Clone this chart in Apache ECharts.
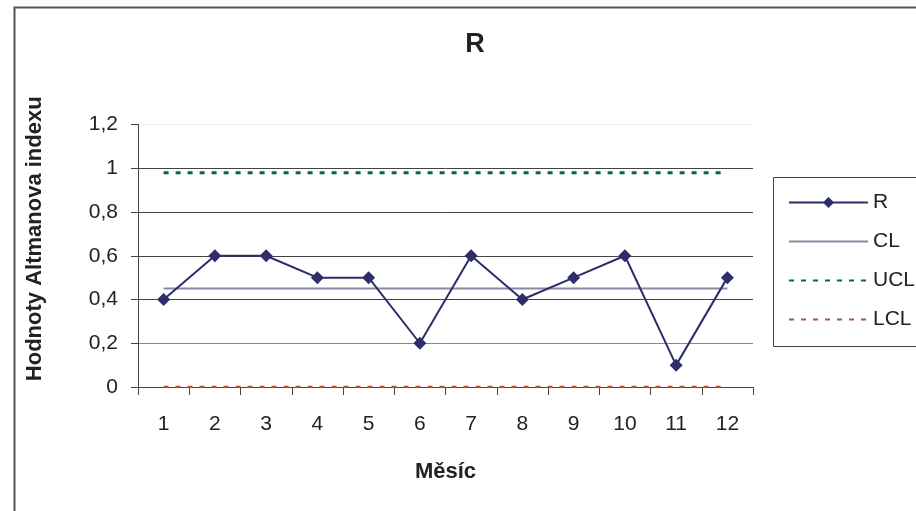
<!DOCTYPE html>
<html>
<head>
<meta charset="utf-8">
<script src="https://cdn.jsdelivr.net/npm/echarts@6/dist/echarts.min.js"></script>
<style>
  html, body { margin: 0; padding: 0; background: #fff; }
  #chart { width: 916px; height: 511px; }
</style>
</head>
<body>
<div id="chart"></div>
<script>
// Control chart of the Altman index by month
const months = ['1', '2', '3', '4', '5', '6', '7', '8', '9', '10', '11', '12'];
const rValues = [0.4, 0.6, 0.6, 0.5, 0.5, 0.2, 0.6, 0.4, 0.5, 0.6, 0.1, 0.5];
const clValue = 0.45;
const uclValue = 0.98;
const lclValue = 0;
const yTicks = [0, 0.2, 0.4, 0.6, 0.8, 1, 1.2];

const FONT = '"Liberation Sans", Arial, sans-serif';
const constant = v => months.map(() => v);
const fmt = v => String(Math.round(v * 10) / 10).replace('.', ',');
const noMarker = { opacity: 0 };

const chart = echarts.init(document.getElementById('chart'));
chart.setOption({
  animation: false,
  backgroundColor: '#fff',
  textStyle: { fontFamily: FONT },
  graphic: [
    {
      type: 'rect',
      shape: { x: 14.5, y: 7.5, width: 940, height: 540 },
      style: { fill: 'none', stroke: '#555', lineWidth: 2 },
      silent: true, z: -10
    },
    {
      type: 'rect',
      shape: { x: 773.5, y: 177.5, width: 170, height: 169 },
      style: { fill: '#fff', stroke: '#444', lineWidth: 1 },
      silent: true, z: 0
    },
    {
      type: 'text',
      x: 475, y: 45,
      style: {
        text: 'R', fill: '#222', font: 'bold 27px ' + FONT,
        textAlign: 'center', textVerticalAlign: 'middle'
      },
      silent: true
    }
  ],
  legend: {
    orient: 'vertical',
    left: 783, top: 187,
    itemWidth: 79, itemHeight: 14, itemGap: 18,
    textStyle: { fontSize: 21, color: '#222', fontFamily: FONT },
    data: [
      { name: 'R' },
      { name: 'CL', itemStyle: noMarker },
      { name: 'UCL', itemStyle: noMarker },
      { name: 'LCL', itemStyle: noMarker }
    ],
    z: 5
  },
  grid: { left: 138, right: 163, top: 124.5, bottom: 124, containLabel: false },
  xAxis: {
    type: 'category',
    data: months,
    boundaryGap: true,
    name: 'Měsíc',
    nameLocation: 'middle',
    nameGap: 74,
    nameTextStyle: { fontSize: 22, fontWeight: 'bold', color: '#222', fontFamily: FONT, verticalAlign: 'top' },
    axisLine: { lineStyle: { color: '#444', width: 1 } },
    axisTick: { show: true, length: 8, lineStyle: { color: '#444' } },
    axisLabel: { fontSize: 21, color: '#222', margin: 27, fontFamily: FONT },
    splitLine: { show: false }
  },
  yAxis: {
    type: 'value',
    min: yTicks[0], max: yTicks[yTicks.length - 1], interval: 0.2,
    name: 'Hodnoty Altmanova indexu',
    nameLocation: 'middle',
    nameGap: 92,
    nameRotate: 90,
    nameTextStyle: { fontSize: 22, fontWeight: 'bold', color: '#222', fontFamily: FONT, padding: [0, 0, 0, 34] },
    axisLine: { show: true, lineStyle: { color: '#444', width: 1 } },
    axisTick: { show: true, length: 7, lineStyle: { color: '#444' } },
    axisLabel: { fontSize: 21, color: '#222', margin: 20, fontFamily: FONT, formatter: fmt },
    splitLine: {
      show: true,
      lineStyle: { color: ['#444', '#888', '#444', '#444', '#444', '#444', '#eeeeee'], width: 1 }
    }
  },
  series: [
    {
      name: 'R', type: 'line', data: rValues,
      symbol: 'diamond', symbolSize: 13, showSymbol: true,
      color: '#2d2d6b',
      lineStyle: { color: '#2d2d6b', width: 2 },
      itemStyle: { color: '#2d2d6b' },
      z: 4
    },
    {
      name: 'CL', type: 'line', data: constant(clValue),
      symbol: 'none', color: '#8f86a6',
      lineStyle: { color: '#8f86a6', width: 2 },
      z: 3
    },
    {
      name: 'UCL', type: 'line', data: constant(uclValue),
      symbol: 'none', color: '#006a45',
      lineStyle: { color: '#006a45', width: 3, type: [5, 7] },
      z: 3
    },
    {
      name: 'LCL', type: 'line', data: constant(lclValue),
      symbol: 'none', color: '#b5532f',
      lineStyle: { color: '#b5532f', width: 2.5, type: [5, 7] },
      z: 3
    }
  ]
});
</script>
</body>
</html>
